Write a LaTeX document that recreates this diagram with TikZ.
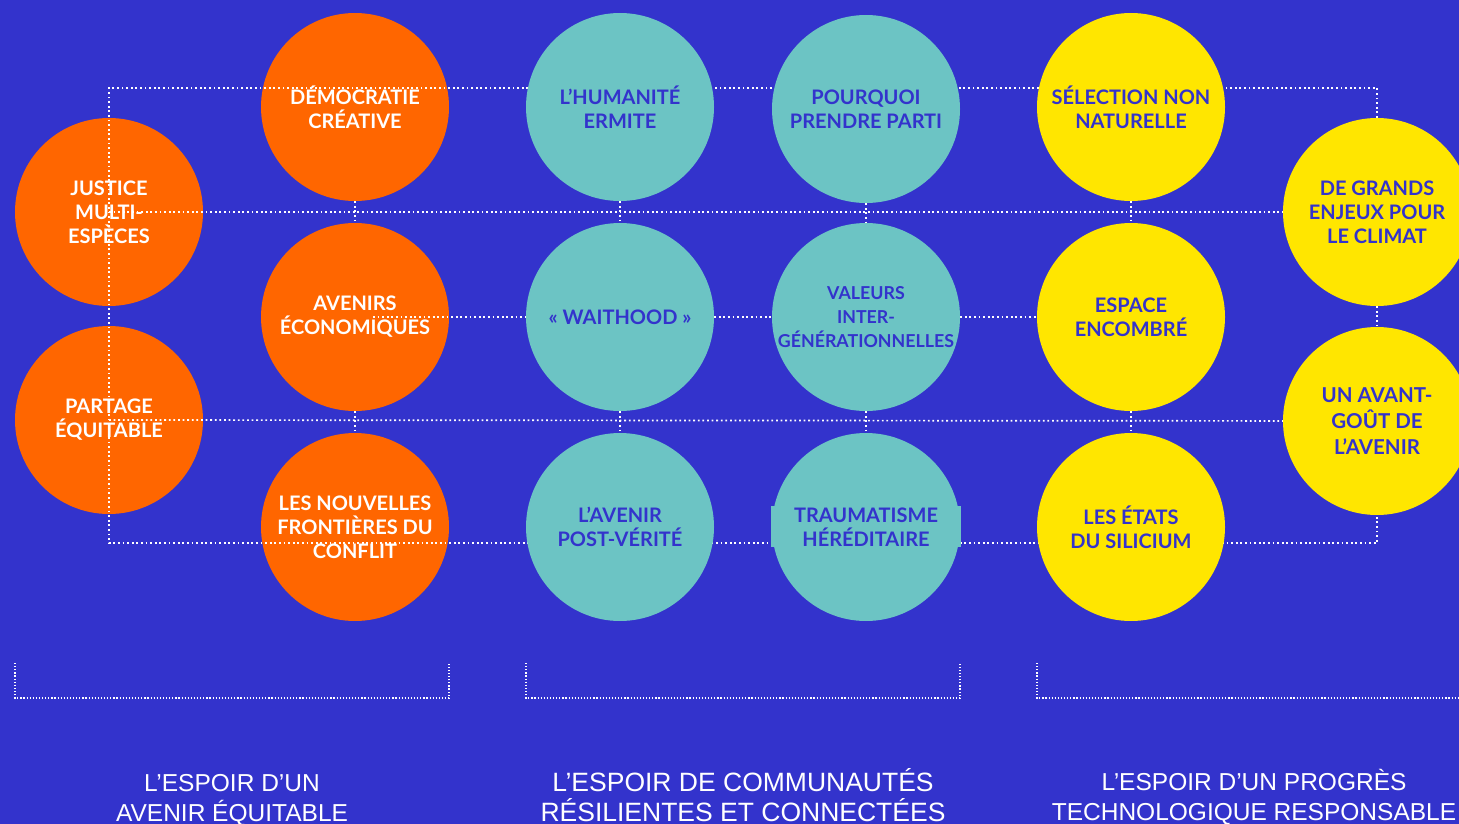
\documentclass[tikz,border=0pt]{standalone}
\usepackage{fontspec}
\setmainfont{Lato}
\newfontfamily\labelfont{Liberation Sans}
\usetikzlibrary{positioning}
\definecolor{bgblue}{RGB}{51,51,204}
\definecolor{hopeorange}{RGB}{255,102,0}
\definecolor{hopeteal}{RGB}{108,196,196}
\definecolor{hopeyellow}{RGB}{255,230,0}
\pgfdeclarelayer{back}
\pgfdeclarelayer{low}
\pgfdeclarelayer{lines}
\pgfsetlayers{back,low,lines,main}

\begin{document}
\begin{tikzpicture}[
    x=1pt, y=-1pt,
    bubble/.style={circle, fill=#1, minimum size=188pt, inner sep=0pt, align=center, font=\bfseries\fontsize{20}{24}\selectfont},
    warm/.style={bubble=hopeorange, text=white},
    cool/.style={bubble=hopeteal, text=bgblue},
    bright/.style={bubble=hopeyellow, text=bgblue},
    dotline/.style={white, line width=1.7pt, dash pattern=on 1.8pt off 2.8pt},
    bracket/.style={white, line width=1.4pt, dash pattern=on 1.2pt off 1.9pt},
    hope/.style={white, align=center, font=\labelfont\fontsize{24.5}{30}\selectfont}
]
    \useasboundingbox (0,0) rectangle (1459,824);
    \begin{pgfonlayer}{back}
        \fill[bgblue] (0,0) rectangle (1459,824);
    \end{pgfonlayer}

    % Equitable future (under the lines)
    \begin{pgfonlayer}{low}
        \node[warm] (just) at (109,212) {JUSTICE\\MULTI-\\ESPÈCES};
        \node[warm] (part) at (109,420) {PARTAGE\\ÉQUITABLE};
        \node[warm] (dem) at (355,107) {DÉMOCRATIE\\CRÉATIVE};
        \node[warm] (aven) at (355,317) {AVENIRS\\ÉCONOMIQUES};
        \node[warm] (nouv) at (355,527) {LES NOUVELLES\\FRONTIÈRES DU\\CONFLIT};
    \end{pgfonlayer}

    % Communities
    \node[cool] (hum) at (620,107) {L’HUMANITÉ\\ERMITE};
    \node[cool] (wait) at (620,317) {« WAITHOOD »};
    \node[cool] (post) at (620,527) {L’AVENIR\\POST-VÉRITÉ};
    \node[cool] (pourq) at (866,109) {POURQUOI\\PRENDRE PARTI};
    \node[cool, font=\bfseries\fontsize{17.8}{24}\selectfont] (val) at (866,317) {VALEURS\\INTER-\\GÉNÉRATIONNELLES};
    \node[fill=hopeteal, minimum width=190pt, minimum height=41pt, inner sep=0pt] (traumabar) at (866,526.5) {};
    \node[cool] (trauma) at (866,527) {TRAUMATISME\\HÉRÉDITAIRE};

    % Technology
    \node[bright] (sel) at (1131,107) {SÉLECTION NON\\NATURELLE};
    \node[bright] (esp) at (1131,317) {ESPACE\\ENCOMBRÉ};
    \node[bright] (etats) at (1131,527) {LES ÉTATS\\DU SILICIUM};
    \node[bright] (grands) at (1377,212) {DE GRANDS\\ENJEUX POUR\\LE CLIMAT};
    \node[bright, font=\bfseries\fontsize{20.5}{26}\selectfont] (avant) at (1377,421) {UN AVANT-\\GOÛT DE\\L’AVENIR};

    % Dotted grid
    \coordinate (ftl) at (109,88);
    \coordinate (fbl) at (109,543);
    \coordinate (ftr) at (1377,88);
    \coordinate (fbr) at (1377,543);
    \coordinate (avenin) at (373,317);
    \begin{pgfonlayer}{lines}
        \draw[dotline] (grands) -- (ftr) -- (ftl) -- (fbl) -- (fbr) -- (avant);
        \draw[dotline] (just.center) -- (grands);
        \draw[dotline] (part.center) -- (avant);
        \draw[dotline] (grands) -- (avant);
        \draw[dotline] (avenin) -- (wait);
        \draw[dotline] (wait) -- (val);
        \draw[dotline] (val) -- (esp);
        \draw[dotline] (dem) -- (aven);
        \draw[dotline] (aven) -- (nouv);
        \draw[dotline] (hum) -- (wait);
        \draw[dotline] (wait) -- (post);
        \draw[dotline] (pourq) -- (val);
        \draw[dotline] (val) -- (trauma);
        \draw[dotline] (sel) -- (esp);
        \draw[dotline] (esp) -- (etats);
    \end{pgfonlayer}

    % Brackets and captions
    \draw[bracket] (15,663) |- (449,698) -- (449,663);
    \draw[bracket] (526,663) |- (960,698) -- (960,663);
    \draw[bracket] (1037,663) |- (1471,698) -- (1471,663);
    \node[hope] (hopeone) at (232,800) {L’ESPOIR D’UN\\AVENIR ÉQUITABLE};
    \node[hope, font=\labelfont\fontsize{26.5}{30}\selectfont] (hopetwo) at (743,795) {L’ESPOIR DE COMMUNAUTÉS\\RÉSILIENTES ET CONNECTÉES};
    \node[hope] (hopethree) at (1254,797) {L’ESPOIR D’UN PROGRÈS\\TECHNOLOGIQUE RESPONSABLE};
\end{tikzpicture}
\end{document}
